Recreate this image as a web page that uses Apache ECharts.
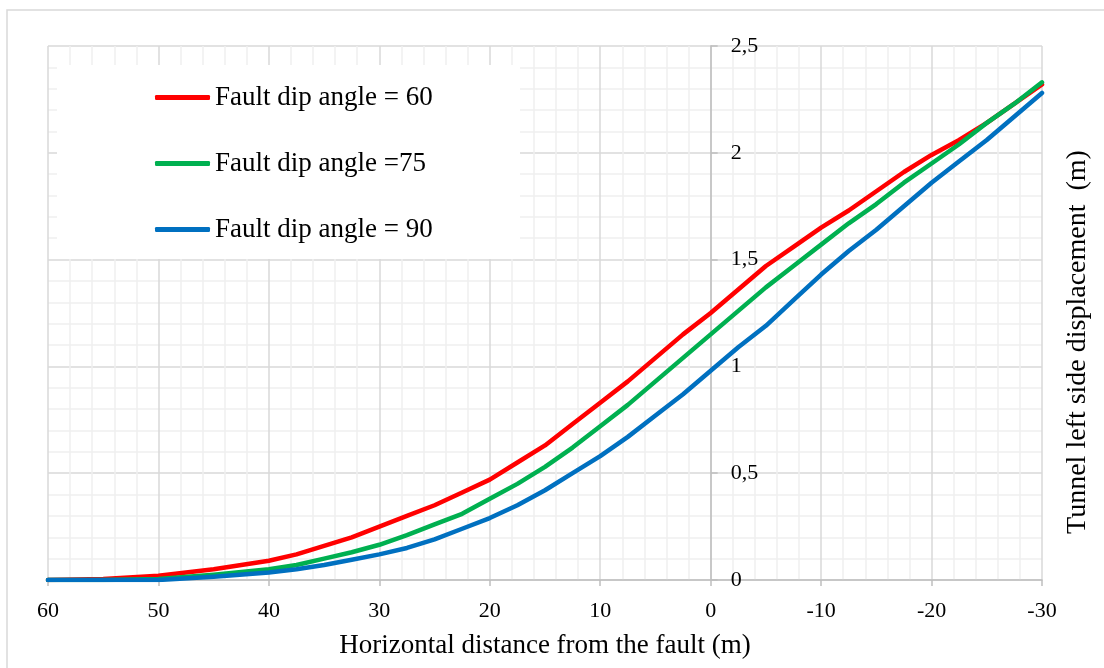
<!DOCTYPE html>
<html>
<head>
<meta charset="utf-8">
<script src="https://cdn.jsdelivr.net/npm/echarts@6/dist/echarts.min.js"></script>
<style>
  html, body { margin: 0; padding: 0; background: #fff; }
  #chart { width: 1104px; height: 668px; }
</style>
</head>
<body>
<div id="chart"></div>
<script>
// horizontal distance from the fault (m)
const distances = [60, 55, 50, 45, 40, 37.5, 35, 32.5, 30, 27.5, 25, 22.5, 20, 17.5, 15, 12.5, 10, 7.5, 5, 2.5, 0,
  -2.5, -5, -7.5, -10, -12.5, -15, -17.5, -20, -22.5, -25, -27.5, -30]
// tunnel left side displacement (m)
const dip60 = [0, 0.005, 0.02, 0.05, 0.09, 0.12, 0.16, 0.2, 0.25, 0.3, 0.35, 0.41, 0.47, 0.55, 0.63, 0.73, 0.83, 0.93, 1.04, 1.15, 1.25,
  1.36, 1.47, 1.56, 1.65, 1.73, 1.82, 1.91, 1.99, 2.06, 2.14, 2.23, 2.32]
const dip75 = [0, 0, 0.005, 0.025, 0.05, 0.07, 0.1, 0.13, 0.165, 0.21, 0.26, 0.31, 0.38, 0.45, 0.53, 0.62, 0.72, 0.82, 0.93, 1.04, 1.15,
  1.26, 1.37, 1.47, 1.57, 1.67, 1.76, 1.86, 1.95, 2.04, 2.14, 2.23, 2.33]
const dip90 = [0, 0, 0, 0.015, 0.035, 0.05, 0.07, 0.095, 0.12, 0.15, 0.19, 0.24, 0.29, 0.35, 0.42, 0.5, 0.58, 0.67, 0.77, 0.87, 0.98,
  1.09, 1.19, 1.31, 1.43, 1.54, 1.64, 1.75, 1.86, 1.96, 2.06, 2.17, 2.28]
const seriesNames = ['Fault dip angle = 60', 'Fault dip angle =75', 'Fault dip angle = 90']
const seriesColors = ['#ff0000', '#00b050', '#0070c0']

const font = 'Liberation Serif'
const chart = echarts.init(document.getElementById('chart'))

// plot area
const gridLeft = 48
const gridRight = 62
const plotWidth = 1104 - gridLeft - gridRight
const xMin = -30
const xMax = 60
// y axis sits on x = 0 (x axis is inverted)
const yAxisOffset = -plotWidth * (xMax - 0) / (xMax - xMin)

const makeSeries = (name, values, color) => ({
  name,
  type: 'line',
  data: distances.map((d, i) => [d, values[i]]),
  symbol: 'none',
  showSymbol: false,
  z: 3,
  lineStyle: { color, width: 4.5, cap: 'round', join: 'round' },
  itemStyle: { color },
})

const option = {
  animation: false,
  textStyle: { fontFamily: font },
  grid: { left: gridLeft, right: gridRight, top: 46, bottom: 88 },
  graphic: [
    {
      type: 'rect',
      z: -1,
      shape: { x: 7, y: 10, width: 1200, height: 700 },
      style: { fill: 'none', stroke: '#d9d9d9', lineWidth: 1.5 },
    },
    {
      type: 'rect',
      z: 3,
      shape: { x: 57, y: 65, width: 463, height: 194 },
      style: { fill: '#ffffff' },
    },
    {
      type: 'text',
      z: 10,
      x: 1078,
      y: 342,
      rotation: Math.PI / 2,
      style: {
        text: 'Tunnel left side displacement  (m)',
        font: `28px "${font}"`,
        fill: '#000',
        align: 'center',
        verticalAlign: 'middle',
      },
    },
  ],
  legend: {
    orient: 'vertical',
    left: 150,
    top: 79,
    z: 10,
    icon: 'roundRect',
    itemWidth: 55,
    itemHeight: 5,
    itemGap: 39,
    textStyle: { fontFamily: font, fontSize: 27, color: '#000' },
    data: seriesNames,
  },
  xAxis: {
    type: 'value',
    inverse: true,
    min: xMin,
    max: xMax,
    interval: 10,
    name: 'Horizontal distance from the fault (m)',
    nameLocation: 'middle',
    nameGap: 52,
    nameTextStyle: { fontFamily: font, fontSize: 27, color: '#000' },
    axisLine: { lineStyle: { color: '#bfbfbf', width: 1.5 } },
    axisTick: { show: true, length: 6, lineStyle: { color: '#bfbfbf', width: 1.5 } },
    axisLabel: { fontFamily: font, fontSize: 22, color: '#000', margin: 20 },
    splitLine: { show: true, lineStyle: { color: '#d9d9d9', width: 1.5 } },
    minorTick: { show: false, splitNumber: 5 },
    minorSplitLine: { show: true, lineStyle: { color: '#f0f0f0', width: 1.5 } },
  },
  yAxis: {
    type: 'value',
    min: 0,
    max: 2.5,
    interval: 0.5,
    offset: yAxisOffset,
    axisLine: { show: true, onZero: false, lineStyle: { color: '#bfbfbf', width: 1.5 } },
    axisTick: { show: true, inside: true, length: 7, lineStyle: { color: '#bfbfbf', width: 1.5 } },
    axisLabel: {
      inside: true,
      margin: 20,
      fontFamily: font,
      fontSize: 22,
      color: '#000',
      formatter: (v) => String(v).replace('.', ','),
    },
    splitLine: { show: true, lineStyle: { color: '#d9d9d9', width: 1.5 } },
    minorTick: { show: false, splitNumber: 5 },
    minorSplitLine: { show: true, lineStyle: { color: '#f0f0f0', width: 1.5 } },
  },
  series: [
    makeSeries(seriesNames[0], dip60, seriesColors[0]),
    makeSeries(seriesNames[1], dip75, seriesColors[1]),
    makeSeries(seriesNames[2], dip90, seriesColors[2]),
  ],
}

chart.setOption(option)
</script>
</body>
</html>
